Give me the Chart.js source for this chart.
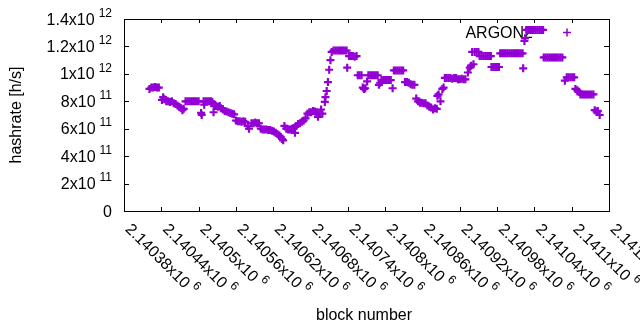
<!DOCTYPE html>
<html>
<head>
<meta charset="utf-8">
<script src="https://cdn.jsdelivr.net/npm/chart.js@4/dist/chart.umd.min.js"></script>
<style>
  html, body { margin: 0; padding: 0; background: #fff; }
  canvas { display: block; }
</style>
</head>
<body>
<canvas id="myChart" width="640" height="330"></canvas>
<script>
// block numbers and hashrate
var blocks = [
    2140421, 2140424, 2140427, 2140430, 2140433, 2140436,
    2140441, 2140443, 2140445, 2140448, 2140451, 2140454, 2140457,
    2140460, 2140463, 2140466, 2140469, 2140472, 2140474, 2140476,
    2140479, 2140482, 2140485, 2140488, 2140491, 2140494, 2140497, 2140500,
    2140504, 2140505, 2140508, 2140509, 2140511, 2140514, 2140517, 2140520, 2140522,
    2140524, 2140525, 2140528, 2140531, 2140534,
    2140536, 2140539, 2140542, 2140545, 2140548, 2140551, 2140554, 2140557,
    2140560, 2140563, 2140566, 2140569, 2140572, 2140575,
    2140579, 2140581, 2140585, 2140588, 2140591, 2140594, 2140597,
    2140600, 2140603, 2140606, 2140609, 2140612, 2140615, 2140618,
    2140621, 2140624, 2140627, 2140630, 2140632, 2140634, 2140636,
    2140638, 2140641, 2140644, 2140647, 2140650, 2140653, 2140655,
    2140657, 2140660, 2140663, 2140666, 2140669, 2140672,
    2140675, 2140678, 2140681, 2140684, 2140687, 2140690, 2140692,
    2140695, 2140697, 2140699,
    2140703, 2140704, 2140706, 2140708, 2140710, 2140712, 2140714,
    2140717, 2140720, 2140723, 2140726, 2140729, 2140732, 2140735, 2140738,
    2140739, 2140742, 2140745, 2140748, 2140751, 2140754,
    2140756, 2140759, 2140762, 2140764, 2140766, 2140768, 2140771,
    2140773, 2140776, 2140779, 2140782, 2140785, 2140788,
    2140790, 2140792, 2140794, 2140797, 2140800, 2140803, 2140806, 2140809,
    2140812, 2140814, 2140817, 2140820, 2140823, 2140826, 2140829,
    2140832, 2140835, 2140838, 2140841, 2140844, 2140847,
    2140850, 2140853, 2140856, 2140859, 2140862, 2140865,
    2140868, 2140871, 2140874, 2140877, 2140880, 2140883,
    2140884, 2140886, 2140889, 2140892, 2140894,
    2140896, 2140899, 2140902, 2140905, 2140908, 2140911, 2140914, 2140917,
    2140920, 2140923, 2140926, 2140929,
    2140933, 2140936, 2140938, 2140940, 2140942, 2140944, 2140947, 2140950,
    2140952, 2140955, 2140958, 2140961, 2140964, 2140967, 2140970,
    2140971, 2140974, 2140977, 2140980, 2140983,
    2140985, 2140988, 2140991, 2140994, 2140997, 2141000, 2141003, 2141006,
    2141009, 2141012, 2141015, 2141018, 2141021,
    2141022, 2141024, 2141025,
    2141027, 2141030, 2141033, 2141036, 2141039, 2141042, 2141045, 2141048, 2141051, 2141054,
    2141055, 2141058, 2141061, 2141064, 2141067, 2141070, 2141073, 2141076, 2141079, 2141082, 2141085,
    2141089, 2141092, 2141095, 2141098, 2141101, 2141104,
    2141106, 2141109, 2141112,
    2141114, 2141117, 2141120, 2141123, 2141126, 2141129, 2141132, 2141135,
    2141137, 2141140, 2141142, 2141145
];
var hashrate = [
    8.9e11, 9.0e11, 9.0e11, 9.05e11, 9.0e11, 9.0e11,
    8.1e11, 8.3e11, 8.15e11, 8.0e11, 8.0e11, 7.95e11, 8.0e11,
    7.85e11, 7.8e11, 7.7e11, 7.6e11, 7.5e11, 7.35e11, 7.45e11,
    8.0e11, 8.0e11, 8.0e11, 8.0e11, 8.0e11, 8.0e11, 8.0e11, 8.0e11,
    7.15e11, 7.0e11, 8.0e11, 7.75e11, 8.0e11, 8.0e11, 8.0e11, 8.0e11, 7.95e11,
    7.2e11, 7.65e11, 7.65e11, 7.6e11, 7.65e11,
    7.5e11, 7.4e11, 7.3e11, 7.25e11, 7.2e11, 7.15e11, 7.1e11, 7.05e11,
    6.6e11, 6.55e11, 6.55e11, 6.5e11, 6.55e11, 6.5e11,
    6.2e11, 6.0e11, 6.4e11, 6.4e11, 6.45e11, 6.4e11, 6.4e11,
    6.0e11, 5.95e11, 5.95e11, 5.95e11, 5.9e11, 5.9e11, 5.85e11,
    5.8e11, 5.7e11, 5.6e11, 5.5e11, 5.4e11, 5.25e11, 5.15e11,
    6.2e11, 6.0e11, 5.95e11, 5.95e11, 6.0e11, 6.05e11, 5.7e11,
    6.2e11, 6.35e11, 6.4e11, 6.5e11, 6.6e11, 6.75e11,
    7.1e11, 7.2e11, 7.2e11, 7.3e11, 7.25e11, 7.2e11, 6.87e11,
    7.1e11, 7.4e11, 7.1e11,
    7.95e11, 8.3e11, 8.75e11, 9.4e11, 1.03e12, 1.1e12, 1.16e12,
    1.17e12, 1.17e12, 1.17e12, 1.17e12, 1.17e12, 1.17e12, 1.17e12, 1.17e12,
    1.045e12, 1.13e12, 1.13e12, 1.13e12, 1.125e12, 1.13e12,
    9.9e11, 9.9e11, 9.9e11, 9.0e11, 8.9e11, 8.95e11, 9.45e11,
    9.9e11, 9.9e11, 9.9e11, 9.9e11, 9.9e11, 9.9e11,
    9.2e11, 9.35e11, 9.55e11, 9.55e11, 9.55e11, 9.55e11, 9.55e11, 9.55e11,
    8.95e11, 1.025e12, 1.025e12, 1.025e12, 1.025e12, 1.025e12, 1.025e12,
    9.4e11, 9.4e11, 9.35e11, 9.25e11, 9.2e11, 9.2e11,
    8.2e11, 8.0e11, 7.9e11, 7.9e11, 7.85e11, 7.85e11,
    7.7e11, 7.6e11, 7.55e11, 7.4e11, 7.5e11, 7.45e11,
    8.4e11, 8.5e11, 8.0e11, 8.9e11, 9.0e11,
    9.7e11, 9.7e11, 9.7e11, 9.7e11, 9.65e11, 9.7e11, 9.7e11, 9.6e11,
    9.6e11, 9.65e11, 9.6e11, 9.6e11,
    1.01e12, 1.045e12, 1.06e12, 1.16e12, 1.07e12, 1.16e12, 1.16e12, 1.16e12,
    1.13e12, 1.13e12, 1.13e12, 1.13e12, 1.13e12, 1.13e12, 1.13e12,
    1.05e12, 1.05e12, 1.05e12, 1.05e12, 1.05e12,
    1.15e12, 1.15e12, 1.15e12, 1.15e12, 1.15e12, 1.15e12, 1.15e12, 1.15e12,
    1.15e12, 1.15e12, 1.15e12, 1.15e12, 1.15e12,
    1.04e12, 1.24e12, 1.26e12,
    1.32e12, 1.32e12, 1.32e12, 1.32e12, 1.32e12, 1.32e12, 1.32e12, 1.32e12, 1.32e12, 1.32e12,
    1.12e12, 1.12e12, 1.12e12, 1.12e12, 1.12e12, 1.12e12, 1.12e12, 1.12e12, 1.12e12, 1.12e12, 1.12e12,
    9.5e11, 9.75e11, 9.75e11, 9.75e11, 9.75e11, 9.75e11,
    8.9e11, 8.8e11, 8.7e11,
    8.5e11, 8.5e11, 8.5e11, 8.5e11, 8.5e11, 8.5e11, 8.5e11, 8.5e11,
    7.35e11, 7.25e11, 7.3e11, 7.0e11
];

// axis ticks (gnuplot style mantissa x10^exp)
var xTicks = [2140380, 2140440, 2140500, 2140560, 2140620, 2140680, 2140740,
    2140800, 2140860, 2140920, 2140980, 2141040, 2141100, 2141160];
var xTickLabels = ['2.14038x10', '2.14044x10', '2.1405x10', '2.14056x10', '2.14062x10',
    '2.14068x10', '2.14074x10', '2.1408x10', '2.14086x10', '2.14092x10', '2.14098x10',
    '2.14104x10', '2.1411x10', '2.14116x10'];
var xTickExp = '6';
var yTicks = [0, 2e11, 4e11, 6e11, 8e11, 1e12, 1.2e12, 1.4e12];
var yTickLabels = ['0', '2x10', '4x10', '6x10', '8x10', '1x10', '1.2x10', '1.4x10'];
var yTickExp = ['', '11', '11', '11', '11', '12', '12', '12'];

var seriesName = 'ARGON2';
var purple = '#9400d3';
var FONT = '"Liberation Sans", Arial, sans-serif';

function drawCross(ctx, x, y) {
    ctx.beginPath();
    ctx.moveTo(x - 4, y); ctx.lineTo(x + 4, y);
    ctx.moveTo(x, y - 4); ctx.lineTo(x, y + 4);
    ctx.stroke();
}

var gnuplotAxes = {
    id: 'gnuplotAxes',
    beforeDatasetsDraw: function (chart) {
        var ctx = chart.ctx;
        ctx.save();
        ctx.fillStyle = '#000';
        ctx.font = '16px ' + FONT;
        ctx.textAlign = 'right';
        ctx.textBaseline = 'alphabetic';
        ctx.fillText(seriesName, 533, 37.5);
        ctx.strokeStyle = purple;
        ctx.lineWidth = 1.5;
        drawCross(ctx, 567, 32.5);
        ctx.restore();
    },
    afterDraw: function (chart) {
        var ctx = chart.ctx;
        var a = chart.chartArea;
        var xs = chart.scales.x, ys = chart.scales.y;
        ctx.save();
        ctx.strokeStyle = '#000';
        ctx.fillStyle = '#000';
        ctx.lineWidth = 1;
        ctx.strokeRect(a.left + 0.5, a.top + 0.5, a.right - a.left, a.bottom - a.top);

        ctx.beginPath();
        yTicks.forEach(function (v) {
            var y = Math.round(ys.getPixelForValue(v)) + 0.5;
            ctx.moveTo(a.left, y); ctx.lineTo(a.left + 5, y);
            ctx.moveTo(a.right, y); ctx.lineTo(a.right - 5, y);
        });
        xTicks.forEach(function (v) {
            var x = Math.round(xs.getPixelForValue(v)) + 0.5;
            ctx.moveTo(x, a.bottom); ctx.lineTo(x, a.bottom - 4);
            ctx.moveTo(x, a.top); ctx.lineTo(x, a.top + 4);
        });
        ctx.stroke();

        // y tick labels
        ctx.textAlign = 'right';
        ctx.textBaseline = 'alphabetic';
        yTicks.forEach(function (v, i) {
            var y = ys.getPixelForValue(v);
            var right = 112;
            if (yTickExp[i]) {
                ctx.font = '12px ' + FONT;
                ctx.fillText(yTickExp[i], right, y - 2.3);
                right -= ctx.measureText(yTickExp[i]).width + 4;
            }
            ctx.font = '16px ' + FONT;
            ctx.fillText(yTickLabels[i], right, y + 5.5);
        });

        // x tick labels, rotated
        ctx.textAlign = 'left';
        xTicks.forEach(function (v, i) {
            var x = xs.getPixelForValue(v);
            ctx.save();
            ctx.translate(x + 4.5, 226);
            ctx.rotate(Math.PI / 4);
            ctx.font = '16px ' + FONT;
            ctx.fillText(xTickLabels[i], 0, 5.5);
            var w = ctx.measureText(xTickLabels[i]).width;
            ctx.font = '12px ' + FONT;
            ctx.fillText(xTickExp, w + 4, -2.3);
            ctx.restore();
        });

        // axis titles
        ctx.font = '16px ' + FONT;
        ctx.textAlign = 'center';
        ctx.textBaseline = 'middle';
        ctx.fillText('block number', 364, 316);
        ctx.save();
        ctx.translate(17, 115);
        ctx.rotate(-Math.PI / 2);
        ctx.fillText('hashrate [h/s]', 0, 0);
        ctx.restore();
        ctx.restore();
    }
};

var ctx = document.getElementById('myChart').getContext('2d');
var myChart = new Chart(ctx, {
    type: 'scatter',
    data: {
        datasets: [{
            label: seriesName,
            data: blocks.map((b, i) => ({ x: b, y: hashrate[i] })),
            pointStyle: 'cross',
            pointRadius: 4,
            borderColor: purple,
            backgroundColor: purple,
            borderWidth: 2.2,
            showLine: false
        }]
    },
    options: {
        responsive: false,
        animation: false,
        layout: { padding: { left: 124, right: 31, top: 19, bottom: 119 } },
        plugins: { legend: { display: false }, tooltip: { enabled: false } },
        scales: {
            x: { type: 'linear', min: 2140380, max: 2141160, display: false },
            y: { min: 0, max: 1.4e12, display: false }
        }
    },
    plugins: [gnuplotAxes]
});
</script>
</body>
</html>
